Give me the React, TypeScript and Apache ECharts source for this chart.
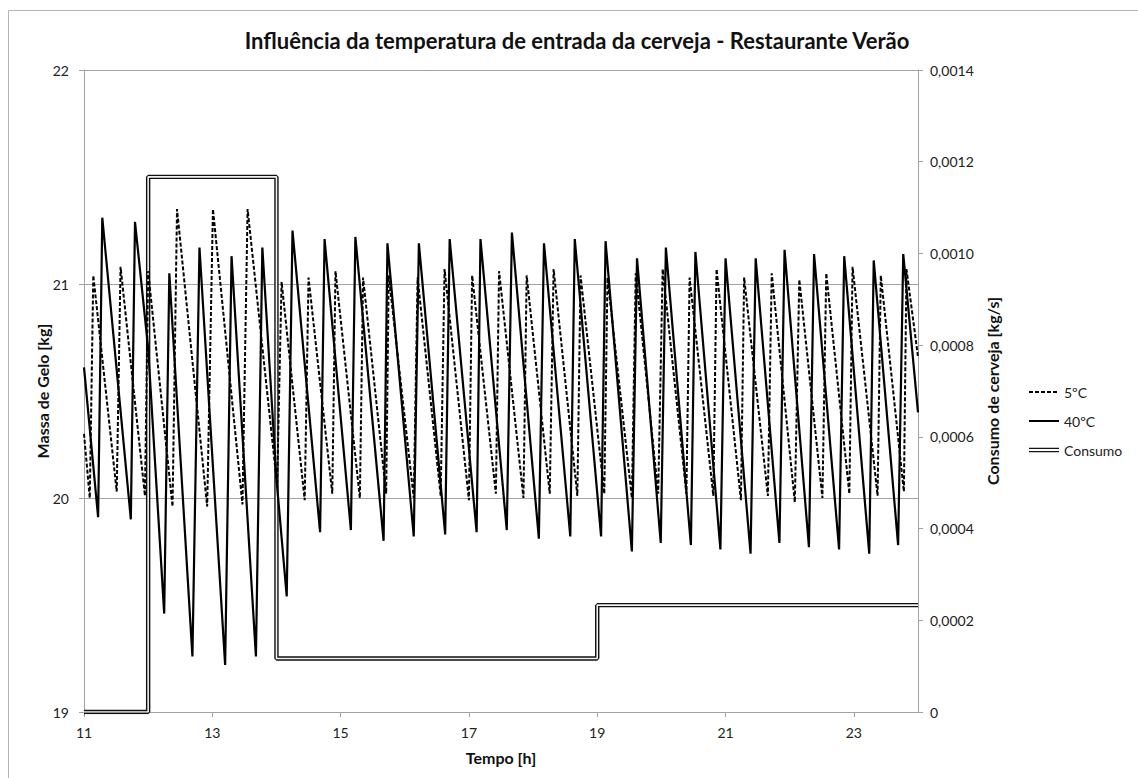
import React, { useEffect, useRef } from "react";
import * as echarts from "echarts";

// Ice mass [kg] over time [h] for a beer inlet temperature of 5 ºC
const t5C = [
  11, 11.09, 11.145, 11.51, 11.57, 11.95, 12.0, 12.38, 12.45, 12.92, 13.01, 13.47, 13.55, 14.01, 14.08,
  14.44, 14.5, 14.87, 14.92, 15.3, 15.35, 15.71, 15.75, 16.14, 16.2, 16.56, 16.62, 17.0, 17.05, 17.42,
  17.47, 17.85, 17.9, 18.26, 18.32, 18.69, 18.74, 19.11, 19.16, 19.54, 19.6, 19.95, 20.02, 20.39, 20.44,
  20.81, 20.86, 21.24, 21.29, 21.66, 21.72, 22.08, 22.15, 22.51, 22.57, 22.93, 22.98, 23.37, 23.42, 23.78,
  23.82, 24,
];
const gelo5C = [
  20.3, 20.0, 21.04, 20.03, 21.08, 20.01, 21.06, 19.96, 21.35, 19.96, 21.35, 19.97, 21.35, 20.06, 21.01,
  19.99, 21.03, 20.02, 21.06, 20.0, 21.03, 20.02, 21.04, 20.0, 21.03, 20.01, 21.07, 19.99, 21.04, 20.02,
  21.06, 20.0, 21.04, 20.02, 21.07, 20.01, 21.04, 20.02, 21.03, 20.0, 21.05, 20.02, 21.07, 20.02, 21.03,
  20.01, 21.07, 19.99, 21.03, 20.01, 21.05, 19.98, 21.02, 20.0, 21.05, 20.02, 21.08, 20.01, 21.04, 20.03,
  21.07, 20.66,
];

// Ice mass [kg] over time [h] for a beer inlet temperature of 40 ºC
const t40C = [
  11, 11.22, 11.285, 11.73, 11.795, 12.0, 12.25, 12.33, 12.69, 12.8, 13.2, 13.3, 13.68, 13.78, 14.0,
  14.16, 14.25, 14.68, 14.75, 15.16, 15.23, 15.67, 15.73, 16.14, 16.22, 16.63, 16.7, 17.12, 17.18, 17.59,
  17.67, 18.09, 18.17, 18.58, 18.65, 19.06, 19.13, 19.54, 19.62, 19.99, 20.07, 20.46, 20.53, 20.92, 21.0,
  21.39, 21.47, 21.84, 21.92, 22.3, 22.38, 22.77, 22.85, 23.24, 23.31, 23.69, 23.77, 24,
];
const gelo40C = [
  20.61, 19.91, 21.31, 19.9, 21.29, 20.7, 19.46, 21.05, 19.26, 21.17, 19.22, 21.13, 19.26, 21.17, 20.09,
  19.54, 21.25, 19.84, 21.21, 19.85, 21.22, 19.8, 21.19, 19.82, 21.19, 19.83, 21.21, 19.84, 21.21, 19.85,
  21.24, 19.81, 21.19, 19.82, 21.21, 19.82, 21.2, 19.75, 21.12, 19.79, 21.17, 19.78, 21.15, 19.76, 21.12,
  19.74, 21.12, 19.79, 21.16, 19.77, 21.14, 19.76, 21.13, 19.74, 21.11, 19.78, 21.14, 20.4,
];

// Beer consumption [kg/s], stepped at the given hours
const consumoT = [11, 12, 14, 19, 24];
const consumoV = [0, 0.001167, 0.0001167, 0.000233, 0.000233];

const xTicks = { min: 11, max: 24, interval: 2 };
const leftTicks = { min: 19, max: 22, interval: 1 };
const rightTicks = { min: 0, max: 0.0014, interval: 0.0002 };

const FONT = "Lato, 'Open Sans', sans-serif";
const AXIS_GREY = "#a3a3a3";

const zip = (xs: number[], ys: number[]) => xs.map((x, i) => [x, ys[i]]);

export default function App() {
  const ref = useRef<HTMLDivElement>(null);

  useEffect(() => {
    if (!ref.current) return;
    const chart = echarts.init(ref.current, null, { renderer: "svg" });

    const consumoData = zip(consumoT, consumoV);
    const nameStyle = { fontFamily: FONT, fontSize: 16, fontWeight: "bold", color: "#111" };

    chart.setOption({
      animation: false,
      backgroundColor: "#ffffff",
      textStyle: { fontFamily: FONT },
      title: {
        text: "Influência da temperatura de entrada da cerveja - Restaurante Verão",
        left: 572,
        textAlign: "center",
        top: 24,
        textStyle: { fontFamily: FONT, fontSize: 22, fontWeight: "bold", color: "#111" },
      },
      graphic: [
        {
          type: "rect",
          shape: { x: 8.5, y: 10.5, width: 1200, height: 900 },
          style: { fill: "none", stroke: "#b4b4b4", lineWidth: 1 },
          silent: true,
          z: -10,
        },
      ],
      legend: {
        orient: "vertical",
        left: 1023,
        top: 380,
        itemWidth: 30,
        itemHeight: 6,
        itemGap: 15,
        textStyle: { fontFamily: FONT, fontSize: 14, color: "#222" },
        data: [
          { name: "5ºC", itemStyle: { opacity: 0 } },
          { name: "40ºC", itemStyle: { opacity: 0 } },
          { name: "Consumo", icon: "path://M0,0H30V1.2H0Z M0,3.2H30V4.4H0Z" },
        ],
      },
      grid: { left: 84, right: 220, top: 70, bottom: 66, containLabel: false },
      xAxis: {
        type: "value",
        min: xTicks.min,
        max: xTicks.max,
        interval: xTicks.interval,
        name: "Tempo [h]",
        nameLocation: "middle",
        nameGap: 37,
        nameTextStyle: nameStyle,
        axisLine: { lineStyle: { color: AXIS_GREY, width: 1 } },
        axisTick: { show: true, length: 5, lineStyle: { color: AXIS_GREY } },
        axisLabel: { showMaxLabel: false, margin: 13, fontSize: 14, color: "#222", fontFamily: FONT },
        splitLine: { show: false },
      },
      yAxis: [
        {
          type: "value",
          min: leftTicks.min,
          max: leftTicks.max,
          interval: leftTicks.interval,
          name: "Massa de Gelo [kg]",
          nameLocation: "middle",
          nameGap: 34,
          nameMoveOverlap: false,
          nameRotate: 90,
          nameTextStyle: nameStyle,
          axisLine: { show: true, lineStyle: { color: AXIS_GREY, width: 1 } },
          axisTick: { show: true, length: 5, lineStyle: { color: AXIS_GREY } },
          axisLabel: { margin: 15, fontSize: 14, color: "#222", fontFamily: FONT },
          splitLine: { show: true, lineStyle: { color: AXIS_GREY, width: 1 } },
        },
        {
          type: "value",
          position: "right",
          min: rightTicks.min,
          max: rightTicks.max,
          interval: rightTicks.interval,
          name: "Consumo de cerveja [kg/s]",
          nameLocation: "middle",
          nameGap: 66,
          nameRotate: 90,
          nameTextStyle: nameStyle,
          axisLine: { show: true, lineStyle: { color: AXIS_GREY, width: 1 } },
          axisTick: { show: true, length: 5, lineStyle: { color: AXIS_GREY } },
          axisLabel: {
            margin: 12,
            fontSize: 14,
            color: "#222",
            fontFamily: FONT,
            formatter: (v: number) => (v === 0 ? "0" : v.toFixed(4).replace(".", ",")),
          },
          splitLine: { show: false },
        },
      ],
      series: [
        {
          name: "Consumo",
          type: "line",
          yAxisIndex: 1,
          step: "end",
          data: consumoData,
          symbol: "none",
          color: "#111",
          lineStyle: { color: "#111", width: 4.4 },
          z: 2,
        },
        {
          name: "Consumo",
          type: "line",
          yAxisIndex: 1,
          step: "end",
          data: consumoData,
          symbol: "none",
          color: "#ffffff",
          lineStyle: { color: "#f2f2f2", width: 1.6 },
          z: 3,
        },
        {
          name: "5ºC",
          type: "line",
          data: zip(t5C, gelo5C),
          symbol: "none",
          color: "#000",
          lineStyle: { color: "#000", width: 2, type: [4, 2] },
          z: 4,
        },
        {
          name: "40ºC",
          type: "line",
          data: zip(t40C, gelo40C),
          symbol: "none",
          color: "#000",
          lineStyle: { color: "#000", width: 2.2 },
          z: 5,
        },
      ],
    });

    return () => chart.dispose();
  }, []);

  return (
    <div
      ref={ref}
      style={{ position: "absolute", left: 0, top: 0, width: 1138, height: 778 }}
    />
  );
}
